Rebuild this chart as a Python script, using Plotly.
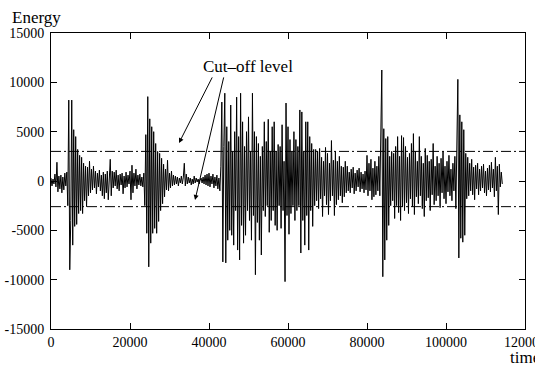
import plotly.graph_objects as go

# sample grid (time units)
t_start = 0
t_step = 250

# energy samples; each row covers 1000 time units (4 samples)
energy = [
    300, -500, 200, -300,          # 0
    700, -600, 1900, -1100,        # 1000
    500, -800, 600, -1200,         # 2000
    400, -900, 800, -500,          # 3000
    900, -2500, 8200, -9000,       # 4000
    -4000, 8200, -6500, 5200,      # 5000
    -4600, 4500, -4400, 3200,      # 6000
    -3300, 2600, -3000, 2400,      # 7000
    -3300, 1800, -2000, 1500,      # 8000
    -2600, 1400, -1500, 2000,      # 9000
    -1200, 1200, -900, 1500,       # 10000
    -700, 1000, -1300, 800,        # 11000
    -600, 1100, -1000, 600,        # 12000
    -1500, 900, -1800, 700,        # 13000
    -1200, 1000, -1900, 800,       # 14000
    2200, -1500, 1000, -700,       # 15000
    900, -500, 1100, -800,         # 16000
    600, -1000, 700, -400,         # 17000
    800, -1300, 500, -700,         # 18000
    900, -600, 600, -300,          # 19000
    1000, -1900, 1600, -1200,      # 20000
    800, -500, 1200, -800,         # 21000
    600, -400, 700, -500,          # 22000
    400, -600, 800, -2500,         # 23000
    4700, -5300, 8550, -8700,      # 24000
    6300, -6300, 5500, -5300,      # 25000
    5000, -4800, 3800, -5300,      # 26000
    3000, -4100, 2800, -3000,      # 27000
    2300, -2300, 1700, -1600,      # 28000
    1200, -900, 2100, -1000,       # 29000
    800, -700, 1000, -500,         # 30000
    600, -400, 500, -300,          # 31000
    400, -500, 300, -200,          # 32000
    500, -300, 400, 1800,          # 33000
    -500, 700, -300, 400,          # 34000
    -200, 300, -400, 200,          # 35000
    -300, 500, -200, 300,          # 36000
    -100, 200, -300, 100,          # 37000
    300, -200, 400, -300,          # 38000
    600, -400, 700, -500,          # 39000
    800, -600, 500, -300,          # 40000
    700, -700, 400, -500,          # 41000
    600, -800, 300, -1000,         # 42000
    1500, 8000, -8200, 3500,       # 43000
    8900, -8300, 5500, -6000,      # 44000
    4000, -5000, 7700, -5500,      # 45000
    3000, -6500, 5000, -3000,      # 46000
    8500, -7000, 4500, -8000,      # 47000
    8900, -4500, 6000, -6300,      # 48000
    3500, -5500, 5000, -3000,      # 49000
    6500, -4000, 3000, -6000,      # 50000
    8900, -3500, 5000, -9500,      # 51000
    4500, -4200, 3800, -6000,      # 52000
    2500, -7500, 3500, -3000,      # 53000
    6000, -3600, 4000, -2500,      # 54000
    6250, -5200, 3000, -4000,      # 55000
    5500, -3000, 6000, -4500,      # 56000
    3000, -5000, 3700, -2500,      # 57000
    3500, -4800, 5700, -3000,      # 58000
    2000, -10200, 7900, -3500,     # 59000
    5500, -5400, 4200, -3300,      # 60000
    3000, -2500, 5000, -4000,      # 61000
    4200, -3000, 3500, -2500,      # 62000
    7200, -7300, 7000, -4000,      # 63000
    3000, -6500, 6000, -3500,      # 64000
    6000, -7000, 4500, -3000,      # 65000
    3800, -4600, 3200, -2500,      # 66000
    3200, -2000, 3000, -2800,      # 67000
    3300, -1800, 2400, -3600,      # 68000
    2000, -1500, 3400, -2400,      # 69000
    2800, -3400, 1800, -2000,      # 70000
    4100, -1500, 2100, -3500,      # 71000
    3000, -2400, 2000, -1900,      # 72000
    2500, -1500, 1500, -2200,      # 73000
    1400, -1600, 2000, -1200,      # 74000
    1500, -1000, 900, -1200,       # 75000
    1200, -700, 1400, -1300,       # 76000
    800, -1000, 1100, -600,        # 77000
    1300, -1100, 900, -800,        # 78000
    700, -1200, 1000, -900,        # 79000
    2600, -1500, 1800, -1000,      # 80000
    2200, -1900, 1300, -1600,      # 81000
    2000, -1400, 1500, -1000,      # 82000
    2500, -1500, 4500, 11250,      # 83000
    -9700, 5300, -8000, 4300,      # 84000
    -6000, 4500, -4500, 2500,      # 85000
    -2500, 3000, -2000, 2800,      # 86000
    -3800, 3500, -2500, 4500,      # 87000
    -3200, 2500, -4000, 4600,      # 88000
    -2600, 4400, -3000, 3500,      # 89000
    -2200, 2400, -3300, 2800,      # 90000
    -1800, 3800, -2600, 4800,      # 91000
    -3400, 3000, -1600, 2000,      # 92000
    -2300, 4500, -1500, 2500,      # 93000
    -2800, 1800, -3600, 3300,      # 94000
    -2000, 2600, -1700, 2000,      # 95000
    -3000, 2200, -1400, 3800,      # 96000
    -2400, 1500, -2000, 2500,      # 97000
    -1500, 1800, -2700, 2300,      # 98000
    -1200, 3000, -1800, 1500,      # 99000
    -2300, 2000, -1100, 2600,      # 100000
    -1500, 1200, -2000, 1800,      # 101000
    -1000, 2500, -2800, 4000,      # 102000
    10300, -7800, 6700, -5800,     # 103000
    6000, -6200, 5200, -5500,      # 104000
    2800, -1800, 2400, -1500,      # 105000
    1800, -1000, 2200, -1400,      # 106000
    1400, -1900, 1600, -800,       # 107000
    1800, -1400, 1200, -1000,      # 108000
    1500, -700, 1700, -1200,       # 109000
    1000, -1500, 1300, -900,       # 110000
    1600, -1100, 1900, -700,       # 111000
    1200, -1600, 2400, -1000,      # 112000
    1500, -3400, 1700, -600,       # 113000
    900, -300,                     # 114000
]

cutoff_levels = [3000, -2600]

x_ticks = [0, 20000, 40000, 60000, 80000, 100000, 120000]
y_ticks = [-15000, -10000, -5000, 0, 5000, 10000, 15000]

FONT = "Liberation Serif"

fig = go.Figure()
fig.add_trace(go.Scatter(
    y=energy, x0=t_start, dx=t_step, mode="lines",
    line=dict(color="black", width=1), showlegend=False,
))

for lvl in cutoff_levels:
    fig.add_shape(type="line", xref="paper", x0=0, x1=1, yref="y", y0=lvl, y1=lvl,
                  line=dict(color="black", width=1, dash="10px,3px,2px,3px"))

# label and arrows
fig.add_annotation(x=49900, y=11560, xref="x", yref="y", text="Cut\u2013off level",
                   showarrow=False, font=dict(family=FONT, size=17, color="black"))
fig.add_annotation(x=32400, y=3850, ax=41000, ay=10650, xref="x", yref="y",
                   axref="x", ayref="y", text="", showarrow=True,
                   arrowhead=2, arrowsize=1, arrowwidth=1, arrowcolor="black")
fig.add_annotation(x=36460, y=-1930, ax=43800, ay=10650, xref="x", yref="y",
                   axref="x", ayref="y", text="", showarrow=True,
                   arrowhead=2, arrowsize=1, arrowwidth=1, arrowcolor="black")

# axis titles: "Energy" as the layout title (top-left), "time" at the bottom right
fig.update_layout(title=dict(text="Energy", xref="container", yref="container",
                             x=12 / 535, xanchor="left", y=1 - 17 / 366, yanchor="middle",
                             font=dict(family=FONT, size=17, color="black")))
fig.add_annotation(x=0.964, y=-0.095, xref="paper", yref="paper", text="time",
                   showarrow=False, xanchor="left", yanchor="middle",
                   font=dict(family=FONT, size=17, color="black"))

axis_common = dict(showgrid=False, zeroline=False, showline=True, linecolor="black",
                   linewidth=1, mirror="ticks", ticks="inside", ticklen=6,
                   tickcolor="black", tickwidth=1, ticklabeloverflow="allow",
                   automargin=False,
                   tickfont=dict(family=FONT, size=14, color="black"))
fig.update_xaxes(range=[0, 120000], tickvals=x_ticks,
                 ticktext=[str(v) for v in x_ticks], **axis_common)
fig.update_yaxes(range=[-15000, 15000], tickvals=y_ticks,
                 ticktext=[str(v) for v in y_ticks],
                 ticklabelstandoff=3, **axis_common)

fig.update_layout(width=535, height=366, margin=dict(l=51, r=10, t=33, b=37, autoexpand=False),
                  paper_bgcolor="white", plot_bgcolor="white",
                  font=dict(family=FONT, size=14, color="black"))

fig.write_html("out.html")
